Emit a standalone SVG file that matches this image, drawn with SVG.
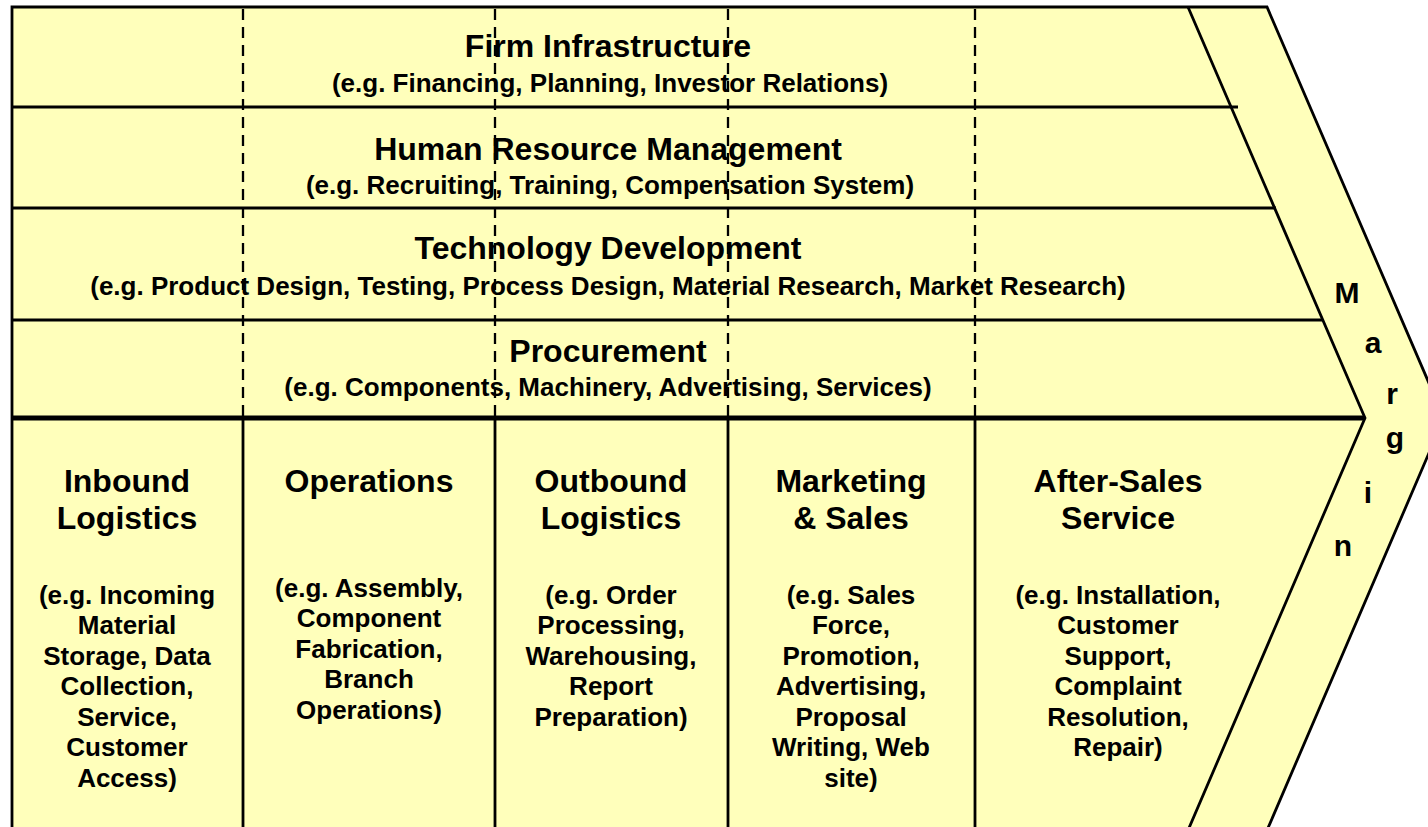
<svg xmlns="http://www.w3.org/2000/svg" width="1428" height="827" viewBox="0 0 1428 827">
<style>
.ln{stroke:#000;stroke-width:2.8;fill:none}
.thick{stroke:#000;stroke-width:5;fill:none}
.dash{stroke:#000;stroke-width:2.3;stroke-dasharray:11 7;fill:none}
text{font-family:"Liberation Sans",Arial,sans-serif;font-weight:bold;fill:#000;text-anchor:middle}
.t{font-size:32px}
.s{font-size:26px}
.m{font-size:30px}
</style>
<g id="chevron">
<path d="M12,7 L1267,7 L1444,418 L1265,835 L12,835 Z" fill="#FFFFBB" stroke="#000" stroke-width="2.8"/>
<polyline class="ln" points="1188,7 1365,418 1186,835"/>
</g>
<g id="connectors">
<line class="ln" x1="12" y1="107" x2="1238" y2="107"/>
<line class="ln" x1="12" y1="208" x2="1276" y2="208"/>
<line class="ln" x1="12" y1="320" x2="1322" y2="320"/>
<line class="thick" x1="12" y1="418" x2="1365" y2="418"/>
<line class="dash" x1="243" y1="9" x2="243" y2="418"/>
<line class="dash" x1="495" y1="9" x2="495" y2="418"/>
<line class="dash" x1="728" y1="9" x2="728" y2="418"/>
<line class="dash" x1="975" y1="9" x2="975" y2="418"/>
<line class="ln" x1="243" y1="418" x2="243" y2="835"/>
<line class="ln" x1="495" y1="418" x2="495" y2="835"/>
<line class="ln" x1="728" y1="418" x2="728" y2="835"/>
<line class="ln" x1="975" y1="418" x2="975" y2="835"/>
</g>
<g id="firm-infrastructure">
<text class="t" x="608" y="57">Firm Infrastructure</text>
<text class="s" x="610" y="92">(e.g. Financing, Planning, Investor Relations)</text>
</g>
<g id="human-resource-management">
<text class="t" x="608" y="160">Human Resource Management</text>
<text class="s" x="610" y="194">(e.g. Recruiting, Training, Compensation System)</text>
</g>
<g id="technology-development">
<text class="t" x="608" y="259">Technology Development</text>
<text class="s" x="608" y="295">(e.g. Product Design, Testing, Process Design, Material Research, Market Research)</text>
</g>
<g id="procurement">
<text class="t" x="608" y="362">Procurement</text>
<text class="s" x="608" y="396">(e.g. Components, Machinery, Advertising, Services)</text>
</g>
<g id="inbound-logistics">
<text class="t" x="127" y="492">Inbound</text>
<text class="t" x="127" y="529">Logistics</text>
<text class="s" x="127" y="604">(e.g. Incoming</text>
<text class="s" x="127" y="634">Material</text>
<text class="s" x="127" y="665">Storage, Data</text>
<text class="s" x="127" y="695">Collection,</text>
<text class="s" x="127" y="726">Service,</text>
<text class="s" x="127" y="756">Customer</text>
<text class="s" x="127" y="787">Access)</text>
</g>
<g id="operations">
<text class="t" x="369" y="492">Operations</text>
<text class="s" x="369" y="597">(e.g. Assembly,</text>
<text class="s" x="369" y="627">Component</text>
<text class="s" x="369" y="658">Fabrication,</text>
<text class="s" x="369" y="688">Branch</text>
<text class="s" x="369" y="719">Operations)</text>
</g>
<g id="outbound-logistics">
<text class="t" x="611" y="492">Outbound</text>
<text class="t" x="611" y="529">Logistics</text>
<text class="s" x="611" y="604">(e.g. Order</text>
<text class="s" x="611" y="634">Processing,</text>
<text class="s" x="611" y="665">Warehousing,</text>
<text class="s" x="611" y="695">Report</text>
<text class="s" x="611" y="726">Preparation)</text>
</g>
<g id="marketing-sales">
<text class="t" x="851" y="492">Marketing</text>
<text class="t" x="851" y="529">&amp; Sales</text>
<text class="s" x="851" y="604">(e.g. Sales</text>
<text class="s" x="851" y="634">Force,</text>
<text class="s" x="851" y="665">Promotion,</text>
<text class="s" x="851" y="695">Advertising,</text>
<text class="s" x="851" y="726">Proposal</text>
<text class="s" x="851" y="756">Writing, Web</text>
<text class="s" x="851" y="787">site)</text>
</g>
<g id="after-sales-service">
<text class="t" x="1118" y="492">After-Sales</text>
<text class="t" x="1118" y="529">Service</text>
<text class="s" x="1118" y="604">(e.g. Installation,</text>
<text class="s" x="1118" y="634">Customer</text>
<text class="s" x="1118" y="665">Support,</text>
<text class="s" x="1118" y="695">Complaint</text>
<text class="s" x="1118" y="726">Resolution,</text>
<text class="s" x="1118" y="756">Repair)</text>
</g>
<g id="margin">
<text class="m" x="1347" y="303">M</text>
<text class="m" x="1373" y="353">a</text>
<text class="m" x="1392" y="404">r</text>
<text class="m" x="1395" y="448">g</text>
<text class="m" x="1368" y="503">i</text>
<text class="m" x="1343" y="556">n</text>
</g>
</svg>
